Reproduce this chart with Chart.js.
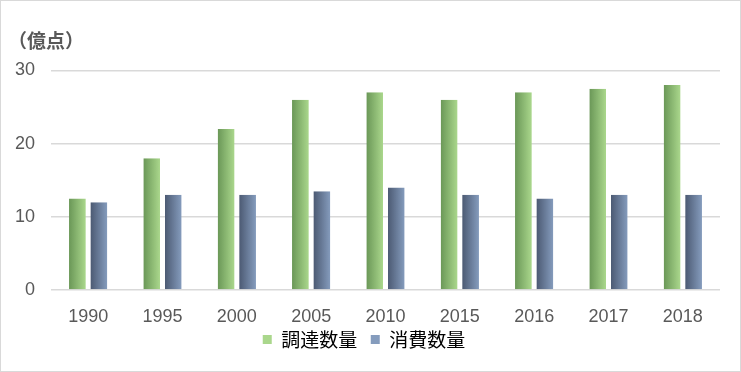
<!DOCTYPE html>
<html>
<head>
<meta charset="utf-8">
<script src="https://cdn.jsdelivr.net/npm/chart.js@4/dist/chart.umd.min.js"></script>
<style>
  html, body { margin: 0; padding: 0; background: #fff; }
  #wrap { width: 741px; height: 372px; box-sizing: border-box; border: 1px solid #d9d9d9; }
</style>
</head>
<body>
<div id="wrap"><canvas id="c" width="739" height="370"></canvas></div>
<script>
// データ
const years = ['1990', '1995', '2000', '2005', '2010', '2015', '2016', '2017', '2018'];
const chotatsu = [12.5, 18, 22, 26, 27, 26, 27, 27.5, 28];   // 調達数量
const shohi = [12, 13, 13, 13.5, 14, 13, 12.5, 13, 13];        // 消費数量
const seriesNames = ['調達数量', '消費数量'];
const yTicks = [0, 10, 20, 30];

const CAT_PCT = 0.515;
const GAP = 2.5;
const NUM_FONT = '"Liberation Sans", Arial, sans-serif';
const JP_FONT = '"Noto Sans CJK JP", "Noto Sans", sans-serif';

const palettes = [
    ['#6a9757', '#aad78c'],
    ['#4c5a73', '#859cbd']
];

// 棒ごとに横方向のグラデーション
function barGradient(ctx, i) {
    const chart = ctx.chart;
    const x = chart.scales.x;
    if (!x || !chart.chartArea || ctx.dataIndex === undefined) return palettes[i][1];
    const center = x.getPixelForValue(ctx.dataIndex);
    const slot = (x.width / years.length) * CAT_PCT / 2;
    const left = i === 0 ? center - slot : center + GAP;
    const right = i === 0 ? center - GAP : center + slot;
    const g = chart.ctx.createLinearGradient(left, 0, right, 0);
    g.addColorStop(0, palettes[i][0]);
    g.addColorStop(1, palettes[i][1]);
    return g;
}

new Chart(document.getElementById('c'), {
    type: 'bar',
    data: {
        labels: years,
        datasets: [{
            label: seriesNames[0],
            data: chotatsu,
            backgroundColor: ctx => barGradient(ctx, 0),
            borderColor: 'rgba(0,0,0,0)',
            borderWidth: { right: GAP, left: 0, top: 0, bottom: 0 },
            borderSkipped: false
        }, {
            label: seriesNames[1],
            data: shohi,
            backgroundColor: ctx => barGradient(ctx, 1),
            borderColor: 'rgba(0,0,0,0)',
            borderWidth: { left: GAP, right: 0, top: 0, bottom: 0 },
            borderSkipped: false
        }]
    },
    options: {
        responsive: false,
        animation: false,
        categoryPercentage: CAT_PCT,
        barPercentage: 1,
        layout: { padding: { left: 7, right: 20, top: 0, bottom: 12 } },
        plugins: {
            title: {
                display: true,
                text: '（億点）',
                align: 'start',
                color: '#595959',
                font: { family: JP_FONT, size: 19 },
                padding: { top: 28, bottom: 18.6 }
            },
            legend: {
                position: 'bottom',
                labels: {
                    color: '#595959',
                    font: { family: JP_FONT, size: 19, lineHeight: 1 },
                    boxWidth: 9,
                    boxHeight: 9,
                    padding: 5,
                    // 項目間の間隔は末尾の空白で調整
                    generateLabels: chart => seriesNames.map((n, i) => ({
                        text: i === 0 ? n + '  ' : n,
                        fillStyle: palettes[i][1],
                        strokeStyle: palettes[i][1],
                        lineWidth: 0,
                        datasetIndex: i
                    }))
                }
            },
            tooltip: { enabled: false }
        },
        scales: {
            x: {
                grid: { display: false, drawTicks: false },
                border: { display: false },
                ticks: { color: '#595959', font: { family: NUM_FONT, size: 18, lineHeight: 1 }, padding: 18, maxRotation: 0 },
                afterFit: axis => { axis.height = 35; }
            },
            y: {
                min: 0,
                max: 30,
                afterBuildTicks: axis => { axis.ticks = yTicks.map(v => ({ value: v })); },
                grid: { color: '#d9d9d9', lineWidth: 1.5, drawTicks: false },
                border: { display: false },
                ticks: { color: '#595959', font: { family: NUM_FONT, size: 18 }, padding: 16 },
                afterFit: axis => { axis.width = 43; }
            }
        }
    }
});
</script>
</body>
</html>
